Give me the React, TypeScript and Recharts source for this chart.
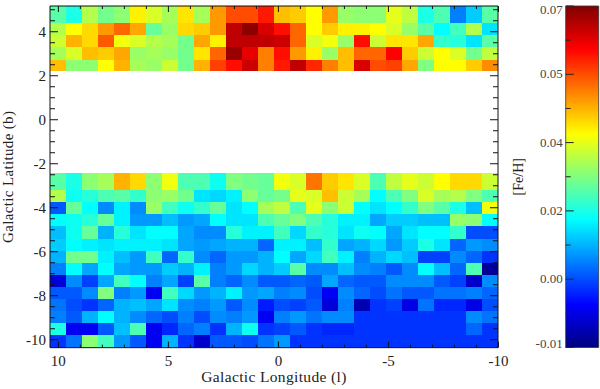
import { Bar, BarChart, Scatter, ScatterChart, XAxis, YAxis, Label } from 'recharts';

// [Fe/H], in units of 0.001, one list per latitude row (top to bottom)
const rowU0 = [27, 22, 34, 29, 31, 41, 37, 33, 42, 33, 48, 54, 54, 58, 45, 44, 40, 48, 32, 31, 31, 38, 35, 22, 26, 10, 16, 27];
const rowU1 = [34, 40, 43, 48, 52, 47, 28, 32, 43, 44, 48, 65, 69, 63, 59, 52, 40, 44, 41, 41, 40, 37, 32, 27, 20, 25, 34, 18];
const rowU2 = [36, 46, 43, 53, 39, 37, 34, 33, 29, 47, 41, 65, 65, 65, 64, 52, 37, 39, 32, 59, 36, 42, 42, 47, 24, 23, 18, 27];
const rowU3 = [33, 37, 45, 44, 47, 32, 33, 32, 29, 42, 52, 68, 62, 50, 59, 48, 41, 32, 45, 52, 52, 60, 44, 36, 40, 37, 29, 35];
const rowU4 = [45, 31, 31, 40, 46, 33, 32, 36, 29, 46, 55, 59, 64, 50, 58, 65, 57, 50, 45, 63, 54, 55, 47, 30, 40, 40, 44, 49];
const rowL0 = [27, 22, 31, 33, 46, 43, 31, 39, 26, 26, 21, 30, 29, 28, 39, 37, 51, 44, 42, 37, 26, 35, 38, 36, 40, 43, 43, 36];
const rowL1 = [34, 21, 23, 26, 27, 24, 31, 32, 29, 18, 17, 19, 31, 28, 29, 38, 37, 45, 36, 33, 20, 26, 30, 37, 33, 34, 30, 26];
const rowL2 = [7, 28, 20, 11, 19, 11, 32, 25, 21, 24, 28, 18, 20, 33, 35, 26, 38, 31, 36, 20, 18, 20, 24, 30, 27, 22, 15, 39];
const rowL3 = [20, 21, 23, 28, 19, 12, 12, 15, 12, 13, 20, 18, 18, 26, 28, 30, 26, 23, 19, 19, 13, 16, 16, 15, 15, 32, 31, 20];
const rowL4 = [15, 21, 28, 14, 23, 18, 20, 20, 13, 11, 11, 23, 19, 19, 25, 17, 24, 23, 18, 21, 20, 13, 18, 20, 20, 24, 6, 6];
const rowL5 = [16, 20, 19, 18, 19, 19, 19, 18, 13, 12, 13, 14, 14, 8, 19, 19, 15, 24, 13, 14, 17, 12, 16, 22, 18, 8, 12, 11];
const rowL6 = [14, 29, 29, 19, 15, 12, 25, 8, 24, 11, 8, 12, 12, 14, 20, 13, 17, 25, 19, 10, 14, 17, 15, 5, 5, 11, 8, 4];
const rowL7 = [10, 20, 13, 20, 13, 12, 12, 16, 14, 19, 10, 12, 17, 14, 16, 27, 11, 11, 15, 11, 10, 7, 11, 20, 15, 8, 26, -8];
const rowL8 = [-3, 11, 5, 13, 25, 20, 10, 13, 5, 27, 10, 8, 11, 7, 7, 8, 7, 13, 8, 7, 7, 11, 11, 11, 7, 5, -4, 11];
const rowL9 = [7, 7, 11, 30, 10, 12, -1, 25, 17, 12, 14, 19, 12, 13, 10, 11, 6, -1, 11, 8, 6, 9, 7, 7, 9, 9, 10, 8];
const rowL10 = [9, 6, 4, 8, 14, 15, 13, 18, 11, 10, 12, 7, 11, 2, 6, 5, 7, -3, 10, -6, 4, 5, -2, 9, 3, 3, -2, 6];
const rowL11 = [10, 7, 14, 20, 14, 11, 8, 6, 10, 6, 11, 10, 12, -1, 10, 12, 9, 11, 11, 4, 4, 4, 4, 4, 4, 4, 11, 9];
const rowL12 = [22, -1, -1, 7, 15, 26, -1, 3, 8, 10, 4, 14, 21, 4, 5, 7, 4, 3, 3, 4, 4, 4, 4, 4, 4, 4, 8, 4];
const rowL13 = [4, 9, 31, 25, 12, 7, -1, 14, 4, -4, 7, 7, 6, 9, 12, 4, 4, 4, 4, 4, 4, 4, 4, 4, 4, 4, 4, 4];

const feHRows = [rowU0, rowU1, rowU2, rowU3, rowU4, rowL0, rowL1, rowL2, rowL3, rowL4, rowL5, rowL6, rowL7, rowL8, rowL9, rowL10, rowL11, rowL12, rowL13];

const lonCenters = [10.02, 9.29, 8.56, 7.84, 7.11, 6.38, 5.65, 4.93, 4.2, 3.47, 2.75, 2.02, 1.29, 0.56, -0.16, -0.89, -1.62, -2.35, -3.07, -3.8, -4.53, -5.25, -5.98, -6.71, -7.44, -8.16, -8.89, -9.62];
// top and bottom latitude of every row
const latTops = [5.17, 4.41, 3.85, 3.29, 2.73, -2.44, -3.2, -3.75, -4.3, -4.85, -5.4, -5.95, -6.5, -7.05, -7.6, -8.15, -8.7, -9.25, -9.8];
const latBottoms = [4.41, 3.85, 3.29, 2.73, 2.22, -3.2, -3.75, -4.3, -4.85, -5.4, -5.95, -6.5, -7.05, -7.6, -8.15, -8.7, -9.25, -9.8, -10.36];

const lonTicks = [10, 9, 8, 7, 6, 5, 4, 3, 2, 1, 0, -1, -2, -3, -4, -5, -6, -7, -8, -9, -10];
const lonLabelled = [10, 5, 0, -5, -10];
const latTicks = [5, 4.5, 4, 3.5, 3, 2.5, 2, 1.5, 1, 0.5, 0, -0.5, -1, -1.5, -2, -2.5, -3, -3.5, -4, -4.5, -5, -5.5, -6, -6.5, -7, -7.5, -8, -8.5, -9, -9.5, -10];
const latLabelled = [4, 2, 0, -2, -4, -6, -8, -10];

const barTicks = [-0.01, -0.002, 0.006, 0.014, 0.022, 0.03, 0.038, 0.046, 0.054, 0.062, 0.07];
const barLabels: Record<string, string> = { '-0.01': '-0.01', '0.006': '0.00', '0.022': '0.02', '0.038': '0.04', '0.054': '0.05', '0.07': '0.07' };
const barData = [{ name: '[Fe/H]', range: [-0.01, 0.07] }];

const jetStops = [
  [0, '#000080'],
  [0.125, '#0000ff'],
  [0.375, '#00ffff'],
  [0.625, '#ffff00'],
  [0.875, '#ff0000'],
  [1, '#800000'],
] as const;

const FONT = '"Liberation Serif", serif';
const INK = '#222';
const PX_PER_DEG = 22;
const CELL_DEG = 16 / PX_PER_DEG;
const LON_DOMAIN: [number, number] = [-9.98, 10.38];
const LAT_DOMAIN: [number, number] = [-10.36, 5.17];

function jet(value: number) {
  const t = Math.min(1, Math.max(0, (value + 0.01) / 0.08));
  let i = 0;
  while (i < jetStops.length - 2 && t > jetStops[i + 1][0]) i++;
  const [t0, c0] = jetStops[i];
  const [t1, c1] = jetStops[i + 1];
  const f = (t - t0) / (t1 - t0);
  const ch = (c: string, p: number) => parseInt(c.slice(p, p + 2), 16);
  const mix = (p: number) => Math.round(ch(c0, p) + (ch(c1, p) - ch(c0, p)) * f);
  return `rgb(${mix(1)},${mix(3)},${mix(5)})`;
}

const cells = feHRows.flatMap((row, r) =>
  row.map((v, c) => ({
    l: lonCenters[c],
    b: (latTops[r] + latBottoms[r]) / 2,
    span: latTops[r] - latBottoms[r],
    feH: v / 1000,
  })),
);

function Cell({ cx, cy, payload }: any) {
  const w = CELL_DEG * PX_PER_DEG;
  const h = payload.span * PX_PER_DEG;
  return <rect x={cx - w / 2} y={cy - h / 2} width={w} height={h} fill={jet(payload.feH)} shapeRendering="crispEdges" />;
}

function MapTick({ x, y, payload, side, labelled }: any) {
  const major = labelled.includes(payload.value);
  const len = side === 'top' || side === 'bottom' ? (major ? 6 : 3) : major ? 8 : 5;
  const dx = side === 'left' ? len : side === 'right' ? -len : 0;
  const dy = side === 'top' ? len : side === 'bottom' ? -len : 0;
  return (
    <g>
      <line x1={x} y1={y} x2={x + dx} y2={y + dy} stroke="#111" strokeWidth={1} />
      {major && side === 'bottom' && (
        <text x={x} y={y + 18} textAnchor="middle" fontFamily={FONT} fontSize={15} fill={INK}>
          {payload.value}
        </text>
      )}
      {major && side === 'left' && (
        <text x={x - 4} y={y + 5} textAnchor="end" fontFamily={FONT} fontSize={15} fill={INK}>
          {payload.value}
        </text>
      )}
    </g>
  );
}

function BarTick({ x, y, payload }: any) {
  const label = barLabels[String(payload.value)];
  const shift = payload.value === 0.07 ? 4 : payload.value === -0.01 ? -4 : 0;
  return (
    <g>
      <line x1={x} y1={y} x2={x + (label ? 8 : 5)} y2={y} stroke="#222" strokeWidth={1} />
      {label && (
        <text x={x - 3} y={y + shift + 4} textAnchor="end" fontFamily={FONT} fontSize={13} fill="#444">
          {label}
        </text>
      )}
    </g>
  );
}

export default function App() {
  const axisLine = { stroke: '#111', strokeWidth: 1 };
  const pos = { position: 'absolute', left: 0, top: 0 } as const;
  return (
    <div style={{ position: 'absolute', left: 0, top: 0, width: 600, height: 389, background: '#fff' }}>
      <ScatterChart width={600} height={389} margin={{ top: 6, right: 102, bottom: 41.34, left: 50 }} style={pos}>
        <XAxis type="number" dataKey="l" reversed domain={LON_DOMAIN} allowDataOverflow hide />
        <YAxis type="number" dataKey="b" domain={LAT_DOMAIN} allowDataOverflow hide />
        <Scatter data={cells} shape={Cell} isAnimationActive={false} />
      </ScatterChart>

      {/* frame and ticks sit on top of the cells, so they get their own layer */}
      <ScatterChart width={600} height={389} margin={{ top: 5, right: 101, bottom: 0, left: 0 }} style={pos}>
        <XAxis
          type="number"
          dataKey="l"
          reversed
          domain={LON_DOMAIN}
          allowDataOverflow
          ticks={lonTicks}
          interval={0}
          height={41.34}
          tickSize={0}
          tickMargin={0}
          axisLine={axisLine}
          tickLine={false}
          tick={(p: any) => <MapTick {...p} side="bottom" labelled={lonLabelled} />}
        >
          <Label value="Galactic Longitude (l)" position="insideBottom" offset={7} style={{ fontFamily: FONT, fontSize: 15.5, fill: INK, letterSpacing: 0.35 }} />
        </XAxis>
        <XAxis
          xAxisId="top"
          dataKey="l"
          orientation="top"
          type="number"
          reversed
          domain={LON_DOMAIN}
          allowDataOverflow
          ticks={lonTicks}
          interval={0}
          height={1}
          tickSize={0}
          tickMargin={0}
          axisLine={axisLine}
          tickLine={false}
          tick={(p: any) => <MapTick {...p} side="top" labelled={lonLabelled} />}
        />
        <YAxis
          type="number"
          dataKey="b"
          domain={LAT_DOMAIN}
          allowDataOverflow
          ticks={latTicks}
          interval={0}
          width={50}
          tickSize={0}
          tickMargin={0}
          axisLine={axisLine}
          tickLine={false}
          tick={(p: any) => <MapTick {...p} side="left" labelled={latLabelled} />}
        >
          <Label value="Galactic Latitude (b)" angle={-90} position="insideLeft" offset={8} style={{ fontFamily: FONT, fontSize: 15, fill: INK, letterSpacing: 0.35, textAnchor: 'middle' }} />
        </YAxis>
        <YAxis
          yAxisId="right"
          dataKey="b"
          orientation="right"
          type="number"
          domain={LAT_DOMAIN}
          allowDataOverflow
          ticks={latTicks}
          interval={0}
          width={1}
          tickSize={0}
          tickMargin={0}
          axisLine={axisLine}
          tickLine={false}
          tick={(p: any) => <MapTick {...p} side="right" labelled={latLabelled} />}
        />
        <Scatter data={[]} isAnimationActive={false} />
        <Scatter data={[]} xAxisId="top" yAxisId="right" isAnimationActive={false} />
      </ScatterChart>

      <BarChart
        width={100}
        height={389}
        data={barData}
        barCategoryGap={0}
        margin={{ top: 6, right: 1.7, bottom: 41.5, left: 0 }}
        style={{ position: 'absolute', left: 500, top: 0 }}
      >
        <defs>
          <linearGradient id="jetBar" x1="0" y1="1" x2="0" y2="0">
            {jetStops.map(([t, c]) => (
              <stop key={t} offset={t} stopColor={c} />
            ))}
          </linearGradient>
        </defs>
        <XAxis dataKey="name" hide />
        <YAxis
          type="number"
          domain={[-0.01, 0.07]}
          ticks={barTicks}
          interval={0}
          width={65.7}
          tickSize={0}
          tickMargin={0}
          axisLine={false}
          tickLine={false}
          tick={(p: any) => <BarTick {...p} />}
        >
          <Label value="[Fe/H]" angle={-90} position="insideLeft" offset={18} style={{ fontFamily: FONT, fontSize: 14, fill: INK, textAnchor: 'middle' }} />
        </YAxis>
        <Bar dataKey="range" fill="url(#jetBar)" stroke="#333" strokeWidth={0.8} isAnimationActive={false} />
      </BarChart>
    </div>
  );
}
